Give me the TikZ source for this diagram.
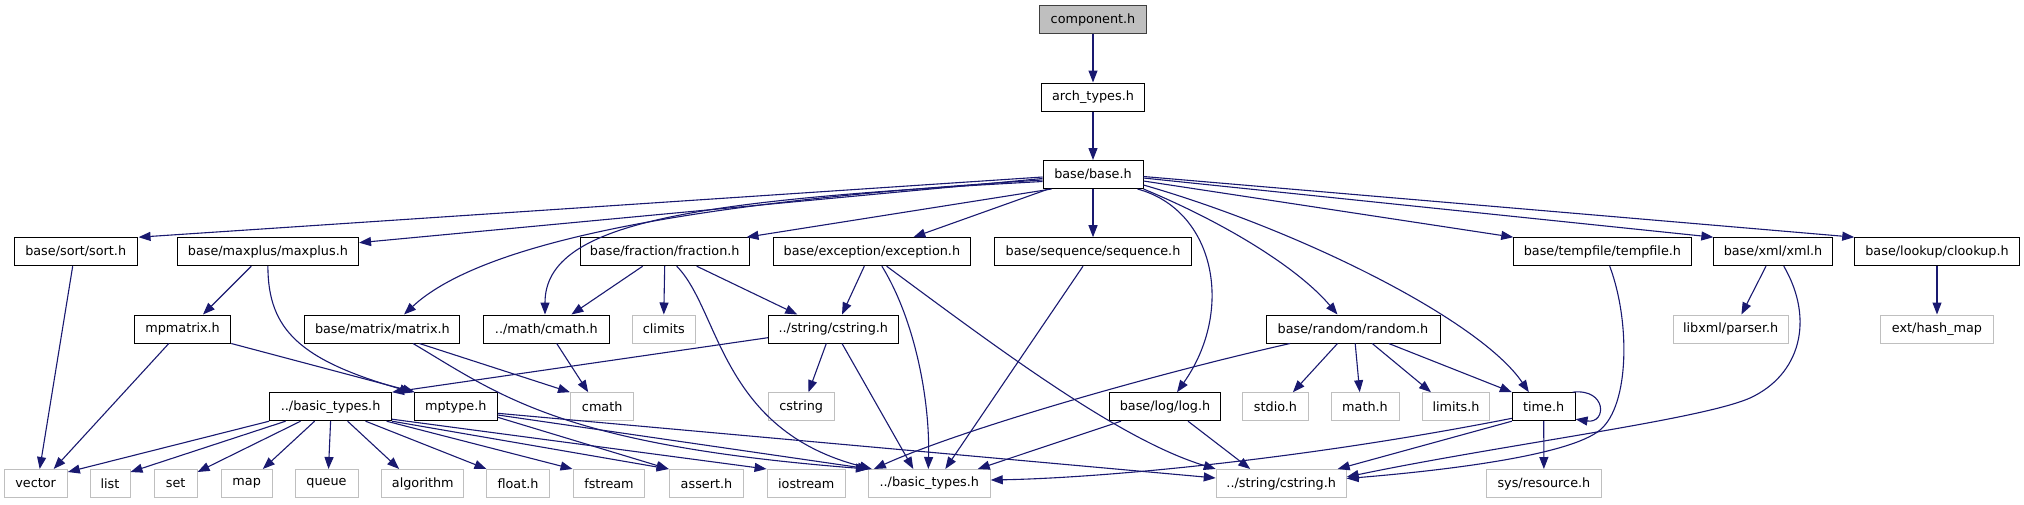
\documentclass[tikz,border=0pt]{standalone}
\usepackage{fontspec}
\setmainfont{DejaVu Sans}
\usetikzlibrary{arrows.meta,calc}
\definecolor{edgec}{RGB}{25,25,112}
\definecolor{graybd}{RGB}{191,191,191}
\definecolor{compfill}{RGB}{191,191,191}
\tikzset{
  nd/.style={draw=black, line width=1pt, fill=white, inner sep=0pt, minimum height=28pt,
     font=\fontsize{12.8}{15}\selectfont, text=black},
  gn/.style={nd, draw=graybd},
  cn/.style={nd, fill=compfill, draw=black!75},
  e/.style={draw=edgec, line width=1.1pt, -{Triangle[length=12pt,width=9pt]}}
}
\begin{document}
\begin{tikzpicture}[x=1pt,y=-1pt]
\useasboundingbox (0,0) rectangle (2024,504);
% rows
\node[cn, minimum width=106.7pt] (comp) at (1093,19.7) {component.h};
\node[nd, minimum width=103.5pt] (arch) at (1093,97) {arch\_types.h};
\node[nd, minimum width=100pt] (base) at (1093,174.5) {base/base.h};
% row 2
\node[nd, minimum width=122.7pt] (sort) at (75.7,251.7) {base/sort/sort.h};
\node[nd, minimum width=181.3pt] (maxplus) at (267.9,251.7) {base/maxplus/maxplus.h};
\node[nd, minimum width=168.6pt] (fraction) at (664.7,251.7) {base/fraction/fraction.h};
\node[nd, minimum width=197.3pt] (exception) at (871.9,251.7) {base/exception/exception.h};
\node[nd, minimum width=196.9pt] (sequence) at (1093,251.7) {base/sequence/sequence.h};
\node[nd, minimum width=177.3pt] (tempfile) at (1602.4,251.7) {base/tempfile/tempfile.h};
\node[nd, minimum width=118.3pt] (xml) at (1773,251.7) {base/xml/xml.h};
\node[nd, minimum width=164.5pt] (clookup) at (1937,251.7) {base/lookup/clookup.h};
% row 3
\node[nd, minimum width=96.4pt] (mpmatrix) at (182.6,329) {mpmatrix.h};
\node[nd, minimum width=154.9pt] (matrix) at (382.4,329) {base/matrix/matrix.h};
\node[nd, minimum width=125.9pt] (mcmath) at (546.4,329) {../math/cmath.h};
\node[gn, minimum width=62.5pt] (climits) at (663.8,329) {climits};
\node[nd, minimum width=129.9pt] (scstring) at (833.3,329) {../string/cstring.h};
\node[nd, minimum width=174pt] (random) at (1353,329) {base/random/random.h};
\node[gn, minimum width=115.3pt] (parser) at (1730.7,329) {libxml/parser.h};
\node[gn, minimum width=113.8pt] (hashmap) at (1937,329) {ext/hash\_map};
% row 4
\node[nd, minimum width=121.9pt] (btypes) at (330.6,406.7) {../basic\_types.h};
\node[nd, minimum width=83pt] (mptype) at (455.8,406.7) {mptype.h};
\node[gn, minimum width=63.4pt] (cmath) at (602.2,406.7) {cmath};
\node[gn, minimum width=65.7pt] (cstring) at (801.2,406.7) {cstring};
\node[nd, minimum width=111.1pt] (log) at (1165,406.7) {base/log/log.h};
\node[gn, minimum width=65.1pt] (stdio) at (1275.5,406.7) {stdio.h};
\node[gn, minimum width=68pt] (math) at (1365,406.7) {math.h};
\node[gn, minimum width=67.8pt] (limits) at (1456,406.7) {limits.h};
\node[nd, minimum width=62.7pt] (time) at (1543.7,406.7) {time.h};
% row 5
\node[gn, minimum width=63.3pt] (vector) at (35.7,483.5) {vector};
\node[gn, minimum width=40pt] (list) at (110,483.5) {list};
\node[gn, minimum width=42.7pt] (set) at (175.7,483.5) {set};
\node[gn, minimum width=51.3pt] (map) at (246.7,483.5) {map};
\node[gn, minimum width=63pt] (queue) at (326.5,483.5) {queue};
\node[gn, minimum width=82.3pt] (algorithm) at (422.8,483.5) {algorithm};
\node[gn, minimum width=62.1pt] (float) at (518,483.5) {float.h};
\node[gn, minimum width=71.9pt] (fstream) at (609,483.5) {fstream};
\node[gn, minimum width=74.6pt] (assert) at (706.5,483.5) {assert.h};
\node[gn, minimum width=78.5pt] (iostream) at (806.3,483.5) {iostream};
\node[gn, minimum width=121.9pt] (gbtypes) at (929.3,483.5) {../basic\_types.h};
\node[gn, minimum width=129.9pt] (gcstring) at (1281.2,483.5) {../string/cstring.h};
\node[gn, minimum width=114.7pt] (resource) at (1543.9,483.5) {sys/resource.h};

% edges
\draw[e] (comp) -- (arch);
\draw[e] (arch) -- (base);
\draw[e] ([yshift=-2.5pt]base.west) -- ([xshift=1pt]sort.north east);
\draw[e] ([yshift=-4pt]base.west) -- ([yshift=9pt]maxplus.east);
\draw[e] ([yshift=-5.5pt]base.west) .. controls (800,195) and (500,225) .. ([xshift=21.6pt]matrix.north);
\draw[e] ([yshift=-7pt]base.west) .. controls (700,200) and (545,220) .. ([xshift=-1.4pt]mcmath.north);
\draw[e] ([xshift=9pt]base.south west) -- ([xshift=-3pt]fraction.north east);
\draw[e] ([xshift=6pt]base.south west) -- ([xshift=41.5pt]exception.north);
\draw[e] (base) -- (sequence);
\draw[e] ([yshift=-6.5pt]base.east) -- (tempfile.north west);
\draw[e] ([yshift=-3.5pt]base.east) -- (xml.north west);
\draw[e] ([yshift=-2pt]base.east) -- (clookup.north west);
\draw[e] ([yshift=-10.5pt]base.east) .. controls (1300,230) and (1480,320) .. ([xshift=17pt]time.north west);
\draw[e] (base.south east) .. controls (1230,225) and (1300,270) .. ([xshift=-15.5pt]random.north);
\draw[e] ([xshift=-6pt]base.south east) .. controls (1215,210) and (1235,310) .. ([xshift=12pt]log.north);
% from row 2
\draw[e] ([xshift=-3pt]sort.south) -- ([xshift=4pt]vector.north);
\draw[e] ([xshift=-16.6pt]maxplus.south) -- ([xshift=20.4pt]mpmatrix.north);
\draw[e] (maxplus.south) .. controls (268,330) and (300,360) .. ([xshift=-2pt]mptype.north west);
\draw[e] ([xshift=-22pt]fraction.south) -- ([xshift=25pt]mcmath.north);
\draw[e] (fraction.south) -- (climits.north);
\draw[e] ([xshift=32pt]fraction.south) -- ([xshift=-36pt]scstring.north);
\draw[e] ([xshift=12pt]fraction.south) .. controls (720,310) and (720,430) .. ([xshift=4pt]gbtypes.north west);
\draw[e] ([xshift=-7.6pt]exception.south) -- ([xshift=8.7pt]scstring.north);
\draw[e] ([xshift=10pt]exception.south) .. controls (915,320) and (930,400) .. ([xshift=-1pt]gbtypes.north);
\draw[e] ([xshift=14.7pt]exception.south) .. controls (1000,350) and (1120,440) .. (gcstring.north west);
\draw[e] ([xshift=-10pt]sequence.south) -- ([xshift=16pt]gbtypes.north);
\draw[e] ([xshift=-7pt]xml.south) -- ([xshift=10.7pt]parser.north);
\draw[e] ([xshift=10.8pt]xml.south) .. controls (1815,320) and (1800,375) .. (1750,398) .. controls (1700,420) and (1500,445) .. ([yshift=6.5pt]gcstring.east);
\draw[e] ([xshift=7.3pt]tempfile.south) .. controls (1630,320) and (1630,405) .. (1600,430) .. controls (1570,455) and (1450,470) .. ([yshift=5pt]gcstring.east);
\draw[e] (clookup) -- (hashmap);
% from row 3
\draw[e] ([xshift=-13.8pt]mpmatrix.south) -- ([xshift=18pt]vector.north);
\draw[e] (mpmatrix.south east) -- ([xshift=1pt]mptype.north west);
\draw[e] ([xshift=37pt]matrix.south) -- (cmath.north west);
\draw[e] ([xshift=30.6pt]matrix.south) .. controls (500,395) and (560,445) .. (gbtypes.north west);
\draw[e] ([xshift=10.3pt]mcmath.south) -- ([xshift=-14pt]cmath.north);
\draw[e] ([yshift=-8.7pt]scstring.west) -- (btypes.north east);
\draw[e] ([xshift=-7pt]scstring.south) -- ([xshift=7.3pt]cstring.north);
\draw[e] ([xshift=8.7pt]scstring.south) -- ([xshift=-16pt]gbtypes.north);
\draw[e] ([xshift=24.6pt]random.south west) .. controls (1150,375) and (960,430) .. ([xshift=6pt]gbtypes.north west);
\draw[e] ([xshift=-15.5pt]random.south) -- ([xshift=17.4pt]stdio.north);
\draw[e] ([xshift=2.2pt]random.south) -- ([xshift=-5.3pt]math.north);
\draw[e] ([xshift=19.2pt]random.south) -- ([xshift=-25pt]limits.north);
\draw[e] ([xshift=35.7pt]random.south) -- (time.north west);
% from row 4
\draw[e] ([xshift=-3pt]time.north east) .. controls (1607,388) and (1607,424) .. ([yshift=2pt]time.south east);
\draw[e] (time) -- (resource);
\draw[e] ([yshift=-11.6pt]time.west) .. controls (1300,460) and (1100,478) .. ([yshift=3.5pt]gbtypes.east);
\draw[e] (time.south west) -- ([xshift=-9pt]gcstring.north east);
\draw[e] ([xshift=-44pt]log.south) -- ([xshift=-13pt]gbtypes.north east);
\draw[e] ([xshift=23pt]log.south) -- ([xshift=-31pt]gcstring.north);
\draw[e] ([yshift=-10.6pt]mptype.east) -- (assert.north west);
\draw[e] ([yshift=-8.3pt]mptype.east) -- ([xshift=2pt]gbtypes.north west);
\draw[e] ([yshift=-6.6pt]mptype.east) -- ([yshift=5.5pt]gcstring.west);
\draw[e] (btypes.south west) -- ([yshift=-3pt]vector.north east);
\draw[e] ([xshift=-45pt]btypes.south) -- ([yshift=-3pt]list.north east);
\draw[e] ([xshift=-30pt]btypes.south) -- ([yshift=-3pt]set.north east);
\draw[e] ([xshift=-16pt]btypes.south) -- ([xshift=-10pt]map.north east);
\draw[e] (btypes.south) -- ([xshift=2pt]queue.north);
\draw[e] ([xshift=17pt]btypes.south) -- ([xshift=18pt]algorithm.north west);
\draw[e] ([xshift=35pt]btypes.south) -- (float.north west);
\draw[e] ([xshift=56pt]btypes.south) -- (fstream.north west);
\draw[e] (btypes.south east) -- (assert.north west);
\draw[e] ([yshift=2pt]btypes.south east) -- (iostream.north west);
\end{tikzpicture}
\end{document}
